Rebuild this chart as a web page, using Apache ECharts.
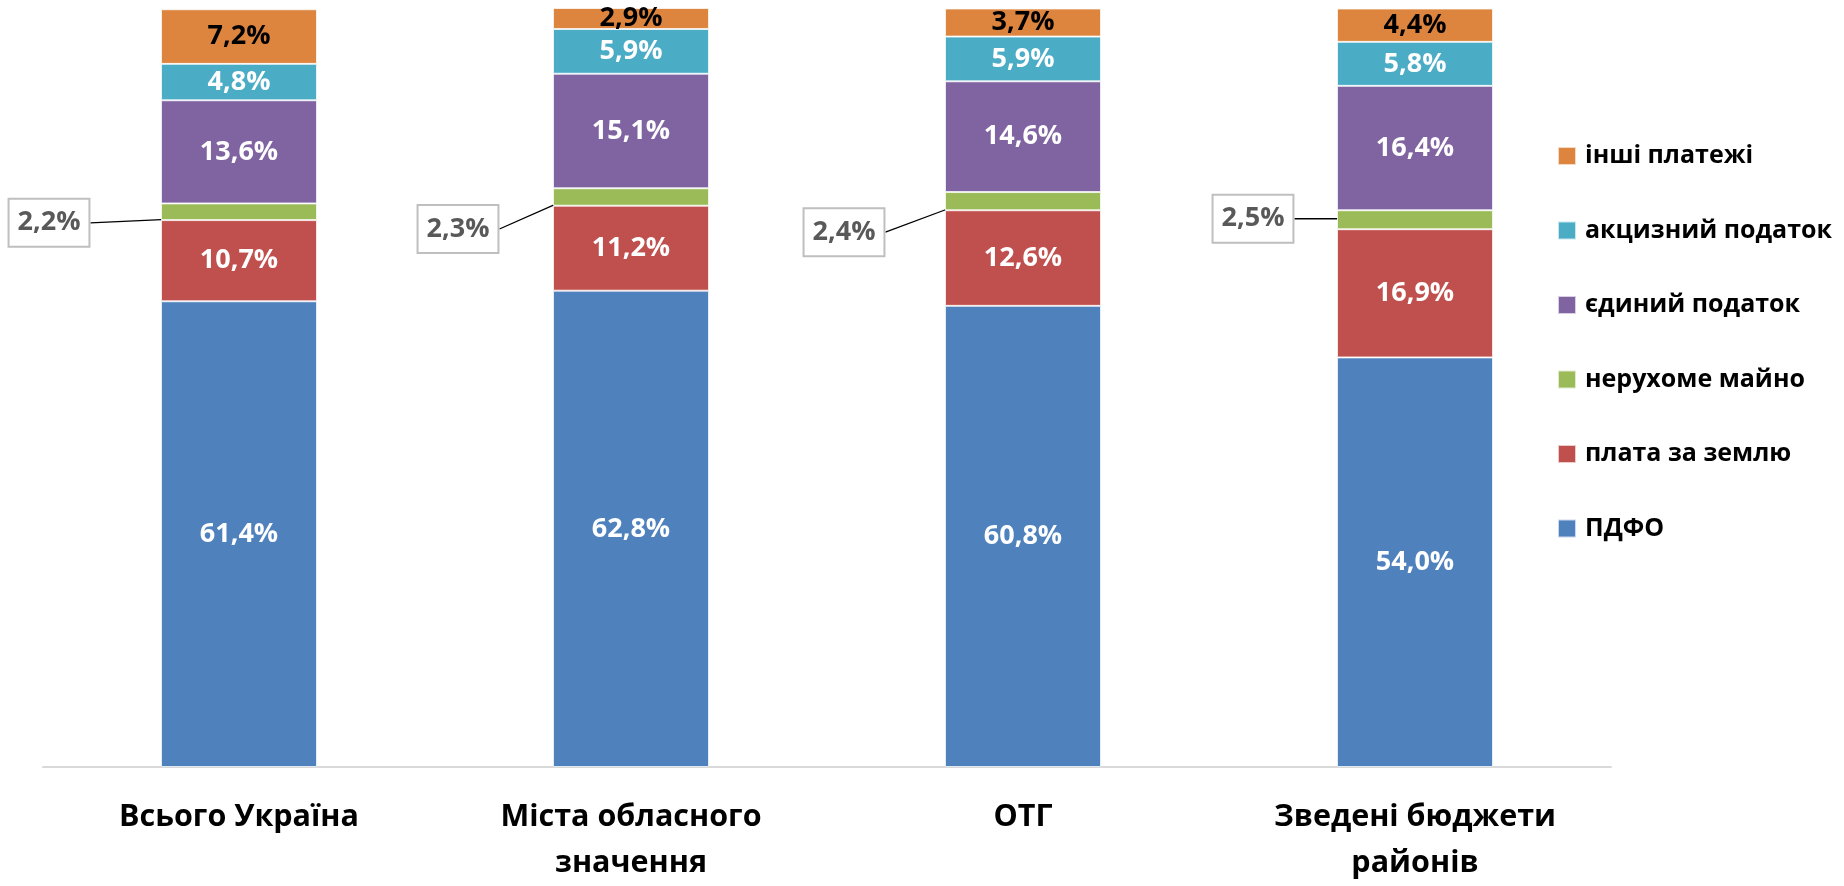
<!DOCTYPE html>
<html>
<head>
<meta charset="utf-8">
<script src="https://cdn.jsdelivr.net/npm/echarts@6/dist/echarts.min.js"></script>
<style>html,body{margin:0;padding:0;background:#fff}#c{width:1844px;height:886px}</style>
</head>
<body>
<div id="c"></div>
<script>
const categories = ['Всього Україна', 'Міста обласного\nзначення', 'ОТГ', 'Зведені бюджети\nрайонів'];
const pdfo = [61.4, 62.8, 60.8, 54.0];
const landFee = [10.7, 11.2, 12.6, 16.9];
const realEstate = [2.2, 2.3, 2.4, 2.5];
const singleTax = [13.6, 15.1, 14.6, 16.4];
const exciseTax = [4.8, 5.9, 5.9, 5.8];
const otherPayments = [7.2, 2.9, 3.7, 4.4];
const seriesNames = ['ПДФО', 'плата за землю', 'нерухоме майно', 'єдиний податок', 'акцизний податок', 'інші платежі'];

// callout label placement (style config, not data): offset of box centre from bar left edge / green segment centre
const calloutDx = [-112, -95, -101, -84];
const calloutDy = [11, 32, 31, -1];

const colors = ['#4F81BD', '#C0504D', '#9BBB59', '#8064A2', '#4BACC6', '#DD853F'];
const FONT = 'Open Sans';
const fmt = v => (typeof v === 'object' ? v.value : v).toFixed(1).replace('.', ',') + '%';

function mkSeries(name, data, color, labelColor) {
  return {
    name, type: 'bar', stack: 'total', data, barWidth: 156,
    itemStyle: { color, borderColor: 'rgba(255,255,255,0.7)', borderWidth: 1 },
    label: {
      show: true, position: 'inside', formatter: p => fmt(p.value),
      color: labelColor, fontFamily: FONT, fontWeight: 'bold', fontSize: 27
    }
  };
}

const series = [
  mkSeries(seriesNames[0], pdfo, colors[0], '#fff'),
  mkSeries(seriesNames[1], landFee, colors[1], '#fff'),
  {
    name: seriesNames[2], type: 'bar', stack: 'total', data: realEstate, barWidth: 156,
    itemStyle: { color: colors[2], borderColor: 'rgba(255,255,255,0.7)', borderWidth: 1 },
    label: {
      show: true, position: 'inside', formatter: p => fmt(p.value),
      color: '#595959', fontFamily: FONT, fontWeight: 'bold', fontSize: 27,
      backgroundColor: '#fff', borderColor: '#BFBFBF', borderWidth: 2,
      padding: [5, 8, 5, 8], lineHeight: 36
    },
    labelLine: { show: true, lineStyle: { color: '#000', width: 1.3 } },
    labelLayout: function (params) {
      const i = params.dataIndex;
      const r = params.rect;
      return {
        x: r.x + calloutDx[i],
        y: r.y + r.height / 2 + calloutDy[i],
        align: 'center', verticalAlign: 'middle'
      };
    }
  },
  mkSeries(seriesNames[3], singleTax, colors[3], '#fff'),
  mkSeries(seriesNames[4], exciseTax, colors[4], '#fff'),
  mkSeries(seriesNames[5], otherPayments, colors[5], '#000')
];

const chart = echarts.init(document.getElementById('c'), null, { renderer: 'canvas' });
chart.setOption({
  animation: false,
  backgroundColor: '#fff',
  grid: { left: 43, right: 233, top: 8.5, bottom: 113, containLabel: false },
  xAxis: {
    type: 'category', data: categories,
    axisLine: { show: true, lineStyle: { color: '#D9D9D9', width: 2 } },
    axisTick: { show: false },
    axisLabel: {
      color: '#000', fontFamily: FONT, fontWeight: 'bold', fontSize: 30.5,
      lineHeight: 46, margin: 27, interval: 0
    }
  },
  yAxis: { type: 'value', min: 0, max: 100, show: false, splitLine: { show: false } },
  legend: {
    orient: 'vertical', left: 1552, top: 136,
    data: seriesNames.slice().reverse(),
    icon: 'rect', itemWidth: 18, itemHeight: 18, itemGap: 44.5,
    textStyle: {
      color: '#000', fontFamily: FONT, fontWeight: 'bold', fontSize: 25,
      lineHeight: 30, padding: [0, 0, 0, 4]
    }
  },
  series
});
</script>
</body>
</html>
